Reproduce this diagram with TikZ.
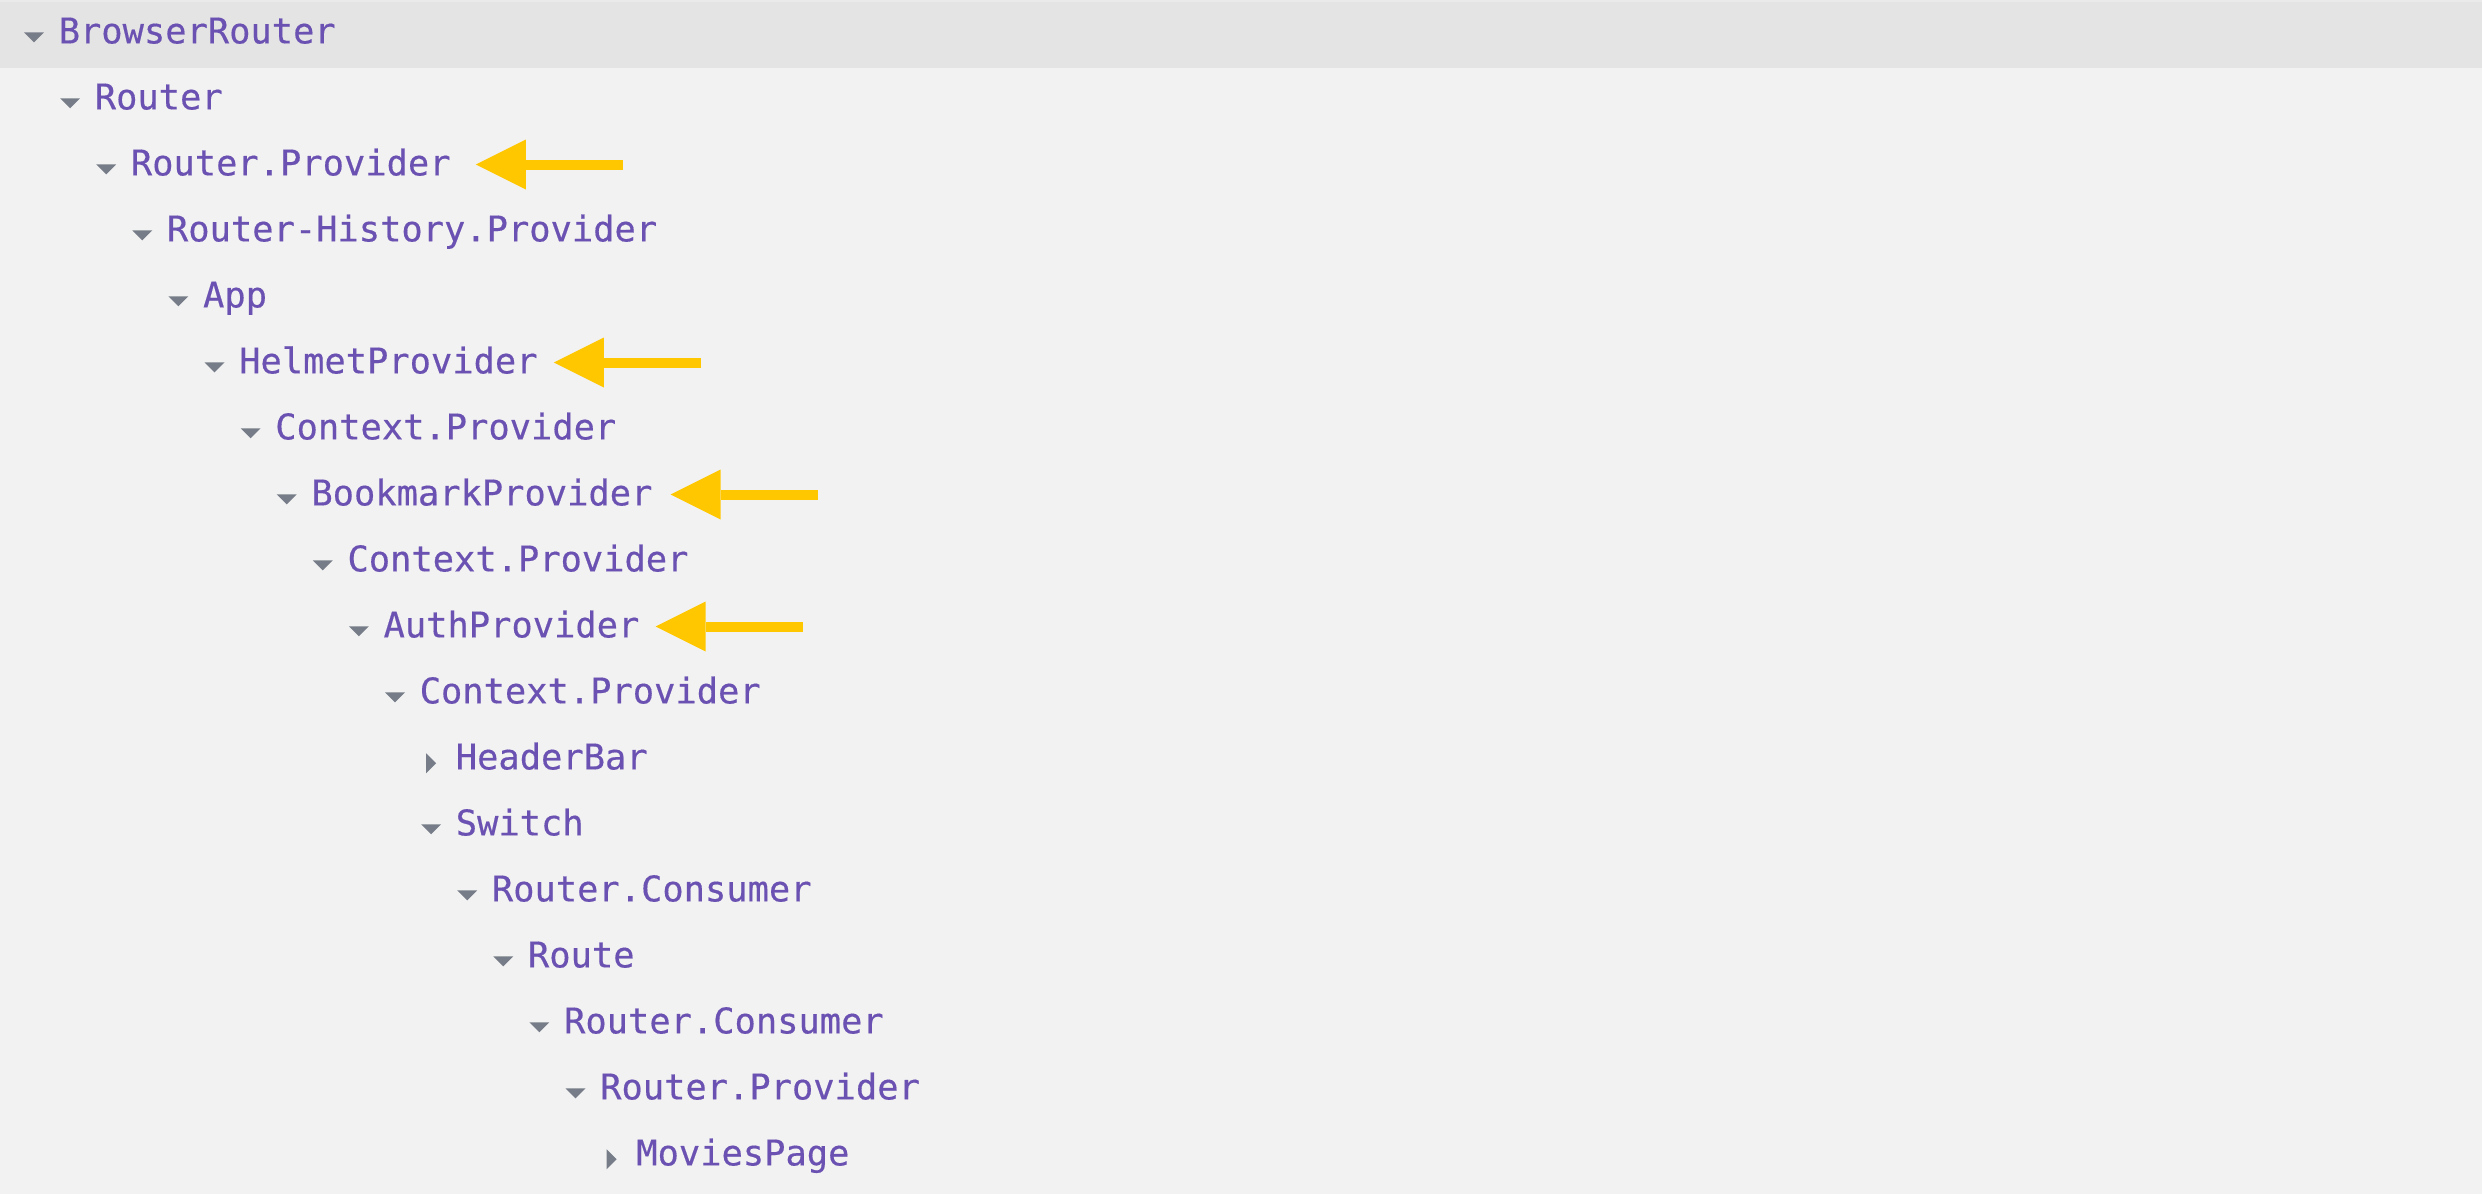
\documentclass[tikz,border=0pt]{standalone}
\usepackage{fontspec}
\setmonofont[FakeBold=0.4]{DejaVu Sans Mono}
\usetikzlibrary{arrows.meta,calc}
\definecolor{panebg}{HTML}{F2F2F2}
\definecolor{selrow}{HTML}{E4E4E4}
\definecolor{selline}{HTML}{EAEAEA}
\definecolor{compname}{HTML}{6A51B2}
\definecolor{togglegray}{HTML}{777D88}
\definecolor{hintyellow}{HTML}{FFC700}

\begin{document}
\begin{tikzpicture}[x=1pt, y=-1pt, font=\ttfamily\fontsize{35.4pt}{40pt}\selectfont,
		comp/.style={text=compname, anchor=base west, inner sep=0pt},
		toggle/.style={fill=togglegray},
		hint/.style={draw=hintyellow, line width=10pt, -{Triangle[length=50pt, width=50pt, line width=0pt]}}]
	\fill[panebg] (0,0) rectangle (2482,1194);
	\fill[selline] (0,0) rectangle (2482,2);
	\fill[selrow] (0,2) rectangle (2482,68);
	% level / toggle angle (0 open, 90 closed) / name
	\foreach \lvl/\rot/\name [count=\i from 0] in {0/0/BrowserRouter, 1/0/Router, 2/0/Router.Provider,
		3/0/Router-History.Provider, 4/0/App, 5/0/HelmetProvider, 6/0/Context.Provider,
		7/0/BookmarkProvider, 8/0/Context.Provider, 9/0/AuthProvider, 10/0/Context.Provider,
		11/90/HeaderBar, 11/0/Switch, 12/0/Router.Consumer, 13/0/Route, 14/0/Router.Consumer,
		15/0/Router.Provider, 16/90/MoviesPage}
	{
		\pgfmathsetmacro\cx{34+36.1*\lvl}
		\pgfmathsetmacro\cy{30.5+66*\i}
		\fill[toggle, shift={(\cx,\cy+6.8)}, rotate=\rot] (-10,-5)--(10,-5)--(0,5)--cycle;
		\node[comp] (n\i) at (\cx+24.5,\cy+12.9) {\name};
	}
	% arrows at the providers
	\foreach \n/\gap in {2/25, 5/16, 7/18, 9/16}
	\draw[hint] ($(n\n.base east)+(\gap+147.5,-10.9)$) -- ($(n\n.base east)+(\gap,-10.9)$);
\end{tikzpicture}
\end{document}
